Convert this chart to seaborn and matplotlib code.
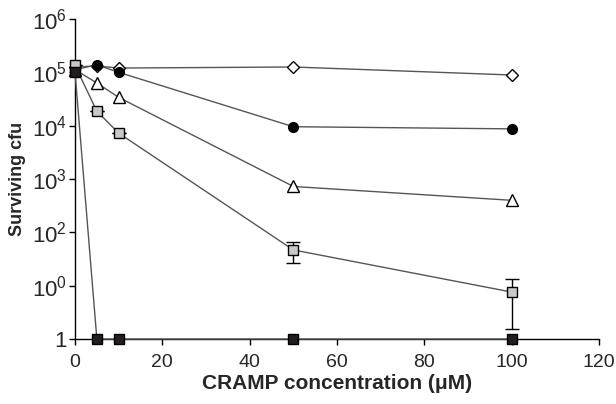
import matplotlib
matplotlib.use("Agg")
import matplotlib.pyplot as plt
import seaborn as sns
import pandas as pd

# CRAMP concentrations (uM)
conc = [0, 5, 10, 50, 100]

# surviving cfu, as log10 values
diamond_vals = [5.10, 5.12, 5.08, 5.10, 4.95]
circle_vals = [5.05, 5.14, 5.00, 3.98, 3.94]
triangle_vals = [5.05, 4.80, 4.53, 2.86, 2.60]
grey_sq_vals = [5.13, 4.27, 3.86, 1.67, 0.88]
grey_sq_err_lo = [0, 0, 0, 0.24, 0.69]
grey_sq_err_hi = [0, 0, 0, 0.15, 0.25]
black_sq_vals = [5.00, 0, 0, 0, 0]

y_ticks = [0, 1, 2, 3, 4, 5, 6]
y_ticklabels = ["1", "$10^0$", "$10^2$", "$10^3$", "$10^4$", "$10^5$", "$10^6$"]

sns.set_style("ticks")
plt.rcParams["font.family"] = ["Liberation Sans", "DejaVu Sans"]
plt.rcParams["mathtext.fontset"] = "custom"
plt.rcParams["mathtext.rm"] = "Liberation Sans"

fig = plt.figure(figsize=(6.16, 4.04), dpi=100)
ax = fig.add_axes([0.1218, 0.1609, 0.8506, 0.7921])

series = [
    (diamond_vals, "D", "white", 6),
    (circle_vals, "o", "black", 7),
    (triangle_vals, "^", "white", 8),
    (grey_sq_vals, "s", "#c8c8c8", 7.5),
    (black_sq_vals, "s", "#231f20", 7.5),
]

for vals, mk, fc, ms in series:
    df = pd.DataFrame({"conc": conc, "cfu": vals})
    sns.lineplot(data=df, x="conc", y="cfu", ax=ax, color="#555555", lw=1.0,
                 marker=mk, markersize=ms, markerfacecolor=fc,
                 markeredgecolor="black", markeredgewidth=1.0, clip_on=False,
                 zorder=3)

ax.errorbar(conc, grey_sq_vals, yerr=[grey_sq_err_lo, grey_sq_err_hi], fmt="none",
            ecolor="black", elinewidth=1.0, capsize=5, capthick=1.0, zorder=2)

ax.set_xlim(0, 120)
ax.set_ylim(0, 6)
ax.set_xticks([0, 20, 40, 60, 80, 100, 120])
ax.set_yticks(y_ticks)
ax.set_yticklabels(y_ticklabels)
ax.tick_params(length=4, width=1, color="black")
ax.tick_params(axis="x", labelsize=14, pad=7)
ax.tick_params(axis="y", labelsize=16, pad=2)
ax.set_xlabel("CRAMP concentration (\u03bcM)", fontsize=15, fontweight="bold", labelpad=2)
ax.set_ylabel("Surviving cfu", fontsize=13, fontweight="bold", labelpad=4)
sns.despine(ax=ax)
for s in ["left", "bottom"]:
    ax.spines[s].set_color("black")
    ax.spines[s].set_linewidth(1.0)

fig.savefig("out.png", dpi=100)
